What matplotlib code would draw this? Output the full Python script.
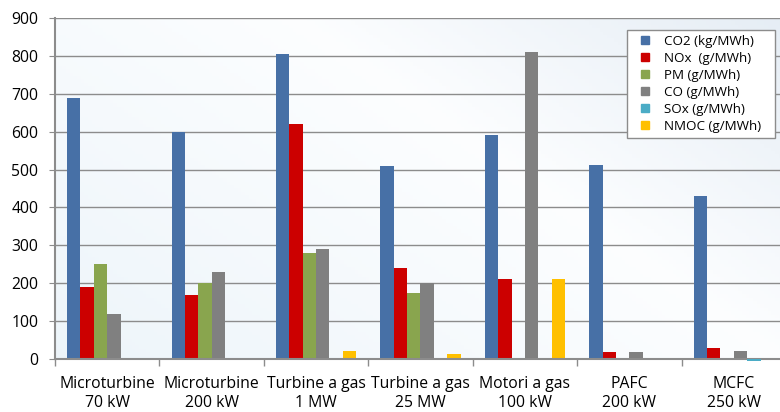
import matplotlib.pyplot as plt
from matplotlib.lines import Line2D
import numpy as np

# categorie e serie
categorie = ['Microturbine\n70 kW', 'Microturbine\n200 kW', 'Turbine a gas\n1 MW',
             'Turbine a gas\n25 MW', 'Motori a gas\n100 kW', 'PAFC\n200 kW', 'MCFC\n250 kW']
serie = ['CO2 (kg/MWh)', 'NOx  (g/MWh)', 'PM (g/MWh)', 'CO (g/MWh)', 'SOx (g/MWh)', 'NMOC (g/MWh)']
co2 = [690, 600, 805, 510, 590, 512, 430]
nox = [190, 170, 620, 240, 210, 18, 30]
pm = [250, 200, 280, 175, 0, 0, 0]
co = [120, 230, 290, 200, 810, 18, 20]
sox = [0, 0, 0, 0, 0, 0, -5]
nmoc = [0, 0, 20, 12, 210, 0, 0]
colori = ['#4770A6', '#CC0000', '#89A54E', '#808080', '#4BACC6', '#FFC000']

valori = [co2, nox, pm, co, sox, nmoc]

plt.rcParams['font.family'] = ['Open Sans', 'DejaVu Sans']

fig = plt.figure(figsize=(7.8, 4.12), dpi=100)
ax = fig.add_axes([55 / 780, (412 - 359) / 412, 731 / 780, 341 / 412])

# sfondo sfumato dell'area del grafico
gx, gy = np.meshgrid(np.linspace(0, 1, 200), np.linspace(0, 1, 100))
t = (gx * 0.6 + (1 - gy) * 0.4)
c1 = np.array([0.93, 0.96, 0.98])
c2 = np.array([0.99, 0.995, 1.0])
c3 = np.array([0.90, 0.93, 0.96])
grad = np.where(t[..., None] < 0.6,
                c1 + (c2 - c1) * (t[..., None] / 0.6),
                c2 + (c3 - c2) * ((t[..., None] - 0.6) / 0.4))
ax.imshow(grad, extent=[-0.5, 6.5, 0, 900], aspect='auto', zorder=0, origin='upper')

x = np.arange(len(categorie))
w = 0.128
for i, (v, c, s) in enumerate(zip(valori, colori, serie)):
    b = ax.bar(x + (i - 2.5) * w, v, w, color=c, label=s, zorder=5 if i == 4 else 3)
    if i == 4:
        for r in b:
            r.set_clip_on(False)

ax.set_xlim(-0.5, 6.5)
ax.set_ylim(0, 900)
ax.set_yticks(range(0, 901, 100))
ax.yaxis.grid(True, color='#8c8c8c', linewidth=1, zorder=1)
ax.set_axisbelow(False)

ax.set_xticks(x)
ax.set_xticklabels(categorie, fontsize=11.3, linespacing=1.25)
ax.tick_params(axis='x', length=0, pad=12)
ax.set_xticks(np.arange(-0.5, 7, 1), minor=True)
ax.tick_params(axis='x', which='minor', length=5, color='#8c8c8c', width=1)
ax.tick_params(axis='y', labelsize=11.3, length=4, color='#8c8c8c', pad=8)

for sp in ['top', 'right']:
    ax.spines[sp].set_visible(False)
for sp in ['left', 'bottom']:
    ax.spines[sp].set_color('#8c8c8c')
    ax.spines[sp].set_linewidth(1.5)
    ax.spines[sp].set_zorder(4)

# legenda con quadratini
maniglie = [Line2D([], [], linestyle='none', marker='s', markersize=5.2,
                   markerfacecolor=c, markeredgecolor=c) for c in colori]
leg = ax.legend(maniglie, serie, loc='upper left',
                bbox_to_anchor=((627 - 55) / 731, (359 - 33) / 341, 148 / 731, 0.01),
                mode='expand', fontsize=9.6, handlelength=1.9, handletextpad=0.5,
                labelspacing=0.3, borderpad=0.4, fancybox=False, framealpha=1,
                edgecolor='#8c8c8c', borderaxespad=0)
leg.get_frame().set_linewidth(1)

fig.savefig('out.png', dpi=100)
